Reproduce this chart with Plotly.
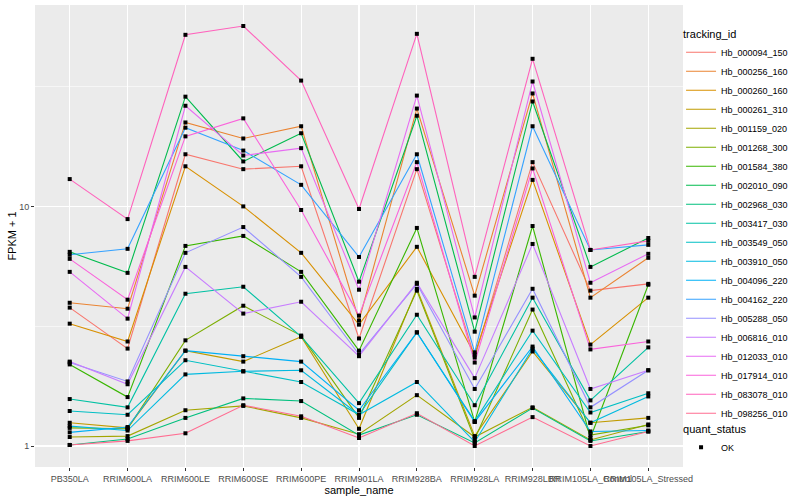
import math
import plotly.graph_objects as go

samples = ["PB350LA", "RRIM600LA", "RRIM600LE", "RRIM600SE", "RRIM600PE",
           "RRIM901LA", "RRIM928BA", "RRIM928LA", "RRIM928LBR",
           "RRIM105LA_Control", "RRIM105LA_Stressed"]

tracking_ids = ["Hb_000094_150", "Hb_000256_160", "Hb_000260_160", "Hb_000261_310",
                "Hb_001159_020", "Hb_001268_300", "Hb_001584_380", "Hb_002010_090",
                "Hb_002968_030", "Hb_003417_030", "Hb_003549_050", "Hb_003910_050",
                "Hb_004096_220", "Hb_004162_220", "Hb_005288_050", "Hb_006816_010",
                "Hb_012033_010", "Hb_017914_010", "Hb_083078_010", "Hb_098256_010"]

# FPKM + 1 per sample (order of `samples`)
hb_000094_150 = [3.78, 2.55, 16.5, 14.3, 14.7, 2.81, 14.3, 2.34, 15.3, 4.45, 4.75]
hb_000256_160 = [3.96, 3.74, 22.4, 19.2, 21.6, 3.34, 25.6, 4.24, 29.6, 4.16, 6.10]
hb_000260_160 = [3.24, 2.73, 14.7, 10.0, 6.40, 3.21, 6.78, 2.41, 12.9, 2.65, 4.16]
hb_000261_310 = [1.25, 1.19, 2.50, 2.25, 2.86, 1.18, 4.53, 1.10, 2.48, 1.25, 1.31]
hb_001159_020 = [1.09, 1.10, 1.41, 1.47, 1.31, 1.12, 1.63, 1.09, 1.45, 1.06, 1.23]
hb_001268_300 = [1.19, 1.18, 2.76, 3.85, 2.89, 1.31, 4.45, 1.07, 3.71, 1.11, 1.22]
hb_001584_380 = [2.19, 1.60, 6.84, 7.53, 5.33, 2.50, 8.13, 1.26, 8.28, 1.08, 4.71]
hb_002010_090 = [6.46, 5.28, 28.7, 15.4, 20.2, 4.85, 23.9, 3.00, 27.4, 5.59, 7.38]
hb_002968_030 = [1.01, 1.07, 1.31, 1.58, 1.54, 1.11, 1.35, 1.03, 1.44, 1.05, 1.15]
hb_003417_030 = [1.57, 1.45, 4.32, 4.62, 2.86, 1.51, 3.53, 1.48, 4.16, 1.55, 2.58]
hb_003549_050 = [1.40, 1.35, 2.28, 2.05, 1.85, 1.35, 2.98, 1.27, 3.03, 1.38, 1.66]
hb_003910_050 = [1.21, 1.16, 1.99, 2.05, 2.07, 1.35, 1.85, 1.04, 2.55, 1.25, 1.61]
hb_004096_220 = [1.14, 1.20, 2.50, 2.37, 2.25, 1.41, 2.98, 1.26, 2.60, 1.15, 1.16]
hb_004162_220 = [6.28, 6.65, 21.3, 17.1, 12.3, 6.15, 16.5, 2.46, 21.6, 6.58, 6.91]
hb_005288_050 = [2.23, 1.86, 6.40, 8.20, 5.08, 2.41, 4.75, 1.73, 4.53, 1.45, 2.07]
hb_006816_010 = [2.25, 1.81, 5.59, 3.57, 4.00, 2.37, 4.80, 1.92, 6.97, 1.73, 2.07]
hb_012033_010 = [5.33, 3.40, 26.3, 16.3, 17.5, 4.49, 29.0, 3.44, 33.2, 4.80, 6.34]
hb_017914_010 = [6.04, 4.08, 19.6, 23.3, 9.66, 3.50, 15.3, 2.23, 14.4, 2.53, 2.73]
hb_083078_010 = [13.0, 8.85, 52.0, 56.6, 33.5, 9.75, 52.5, 5.08, 41.3, 6.58, 7.18]
hb_098256_010 = [1.01, 1.05, 1.13, 1.48, 1.33, 1.08, 1.37, 1.00, 1.32, 1.00, 1.15]

series_values = [hb_000094_150, hb_000256_160, hb_000260_160, hb_000261_310,
                 hb_001159_020, hb_001268_300, hb_001584_380, hb_002010_090,
                 hb_002968_030, hb_003417_030, hb_003549_050, hb_003910_050,
                 hb_004096_220, hb_004162_220, hb_005288_050, hb_006816_010,
                 hb_012033_010, hb_017914_010, hb_083078_010, hb_098256_010]

quant_status = "OK"

palette = ["#F8766D", "#EA8331", "#D89000", "#C09B00", "#A3A500", "#7CAE00",
           "#39B600", "#00BB4E", "#00BF7D", "#00C1A3", "#00BFC4", "#00BAE0",
           "#00B0F6", "#35A2FF", "#9590FF", "#C77CFF", "#E76BF3", "#FA62DB",
           "#FF62BC", "#FF6C91"]

FONT = "Liberation Sans, Arial, Helvetica, sans-serif"

fig = go.Figure()
for name, vals, col in zip(tracking_ids, series_values, palette):
    fig.add_trace(go.Scatter(x=samples, y=vals, mode="lines", name=name,
                             line=dict(color=col, width=1.1), legend="legend",
                             hoverinfo="skip"))

all_x = [s for vals in series_values for s in samples]
all_y = [v for vals in series_values for v in vals]
fig.add_trace(go.Scatter(x=all_x, y=all_y, mode="markers", name=quant_status,
                         marker=dict(symbol="square", size=4, color="black"),
                         legend="legend2"))

lo = math.log10(min(all_y))
hi = math.log10(max(all_y))
pad = 0.05 * (hi - lo)

fig.update_layout(
    template="none",
    width=800, height=500,
    margin=dict(l=35, r=117, t=5, b=33),
    paper_bgcolor="white", plot_bgcolor="#EBEBEB",
    font=dict(family=FONT, size=9, color="#4D4D4D"),
    xaxis=dict(type="category", categoryorder="array", categoryarray=samples,
               range=[-0.6, len(samples) - 0.4], showgrid=True,
               gridcolor="white", gridwidth=1.1, ticks="outside", ticklen=3,
               tickcolor="#333333", tickwidth=1, tickangle=0, automargin=False,
               tickfont=dict(family=FONT, size=9, color="#4D4D4D"),
               zeroline=False, showline=False,
               title=dict(text="sample_name", standoff=1,
                          font=dict(family=FONT, size=11, color="black"))),
    yaxis=dict(type="log", range=[lo - pad, hi + pad], tickvals=[1, 10],
               ticktext=["1", "10"], showgrid=True, gridcolor="white",
               gridwidth=1.1, ticks="outside", ticklen=3, tickcolor="#333333",
               tickwidth=1, automargin=False, zeroline=False, showline=False,
               minor=dict(tickvals=[10 ** 0.5, 10 ** 1.5], showgrid=True,
                          gridcolor="white", gridwidth=0.55, ticks=""),
               tickfont=dict(family=FONT, size=9, color="#4D4D4D"),
               title=dict(text="FPKM + 1", standoff=0,
                          font=dict(family=FONT, size=11, color="black"))),
    legend=dict(title=dict(text="tracking_id",
                           font=dict(family=FONT, size=11, color="black")),
                x=0.997, xanchor="left", y=0.96, yanchor="top",
                font=dict(family=FONT, size=9, color="black"),
                bgcolor="rgba(0,0,0,0)", tracegroupgap=0, itemwidth=30),
    legend2=dict(title=dict(text="quant_status",
                            font=dict(family=FONT, size=11, color="black")),
                 x=0.997, xanchor="left", y=0.105, yanchor="top",
                 font=dict(family=FONT, size=9, color="black"),
                 bgcolor="rgba(0,0,0,0)", itemwidth=30),
    showlegend=True,
)

fig.write_html("out.html",
               config={"displayModeBar": False, "staticPlot": True},
               post_script="document.body.style.margin='0';"
                           "document.body.style.overflow='hidden';")
